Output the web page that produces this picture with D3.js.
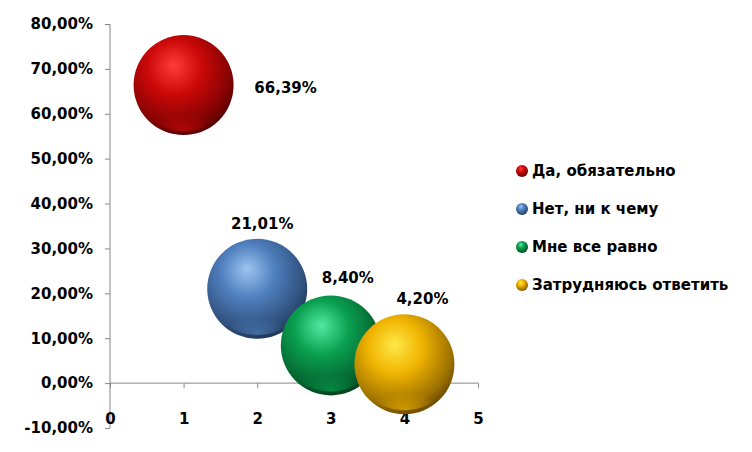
<!DOCTYPE html>
<meta charset="utf-8">
<title>Bubble chart</title>
<style>
    body { margin: 0; background: #fff; }
    svg text { font-family: "DejaVu Sans", Tahoma, sans-serif; font-weight: bold; fill: #000; }
    .axis .domain, .axis .tick line { stroke: #868686; }
    .axis text { font-size: 15px; }
    .lbl { font-size: 15px; }
    .legend text { font-size: 15px; }
</style>
<body>
<svg id="chart" width="752" height="452"></svg>
<script src="https://cdn.jsdelivr.net/npm/d3@7"></script>
<script>
    var categories = ["Да, обязательно", "Нет, ни к чему", "Мне все равно", "Затрудняюсь ответить"];
    var xValues = [1, 2, 3, 4];
    var yValues = [66.39, 21.01, 8.40, 4.20];
    var sizes = [1, 1, 1, 1];
    var yTicks = [-10, 0, 10, 20, 30, 40, 50, 60, 70, 80];
    var xTicks = [0, 1, 2, 3, 4, 5];

    // sphere colours: highlight, base, shadow
    var colors = [
        ["#ff3c3c", "#cc0808", "#500000"],
        ["#9cc4f0", "#4f7fbe", "#1a3050"],
        ["#50eaa0", "#0aa050", "#003a18"],
        ["#ffe848", "#f0b400", "#654400"]
    ];
    // label offsets from bubble centre (layout)
    var labelDx = [102, 5, 17, 18];
    var labelDy = [3, -65, -68, -66];

    var svg = d3.select("#chart");
    var x = d3.scaleLinear().domain([0, 5]).range([110, 478]);
    var y = d3.scaleLinear().domain([-10, 80]).range([428, 24]);
    var r = d3.scaleSqrt().domain([0, 1]).range([0, 50]);

    var defs = svg.append("defs");
    colors.forEach(function(c, i) {
        var g = defs.append("radialGradient").attr("id", "sph" + i)
            .attr("cx", "42%").attr("cy", "36%").attr("r", "68%")
            .attr("fx", "40%").attr("fy", "30%");
        g.append("stop").attr("offset", "0%").attr("stop-color", c[0]);
        g.append("stop").attr("offset", "40%").attr("stop-color", c[1]);
        g.append("stop").attr("offset", "82%").attr("stop-color", d3.interpolateRgb(c[1], c[2])(0.6));
        g.append("stop").attr("offset", "100%").attr("stop-color", c[2]);
        // soft bottom reflection
        var h = defs.append("radialGradient").attr("id", "ref" + i)
            .attr("cx", "50%").attr("cy", "100%").attr("r", "60%");
        h.append("stop").attr("offset", "0%").attr("stop-color", c[1]).attr("stop-opacity", 0.7);
        h.append("stop").attr("offset", "100%").attr("stop-color", c[1]).attr("stop-opacity", 0);
    });

    svg.append("g").attr("class", "axis")
        .attr("transform", "translate(110,0)")
        .call(d3.axisLeft(y).tickValues(yTicks).tickSize(5).tickPadding(12)
            .tickFormat(function(d) { return d.toFixed(2).replace(".", ",") + "%"; }))
        .call(function(g) { g.select(".domain").attr("d", "M0," + y(80) + "V" + y(-10)); });

    svg.append("g").attr("class", "axis")
        .attr("transform", "translate(0," + y(0) + ")")
        .call(d3.axisBottom(x).tickValues(xTicks).tickSize(5).tickPadding(25).tickFormat(d3.format("d")))
        .call(function(g) { g.select(".domain").attr("d", "M" + x(0) + ",0H" + x(5)); });

    var bubbles = svg.append("g").selectAll("g").data(yValues).enter().append("g");
    bubbles.append("circle")
        .attr("cx", function(d, i) { return x(xValues[i]); })
        .attr("cy", function(d) { return y(d); })
        .attr("r", function(d, i) { return r(sizes[i]); })
        .attr("fill", function(d, i) { return "url(#sph" + i + ")"; });
    bubbles.append("ellipse")
        .attr("cx", function(d, i) { return x(xValues[i]); })
        .attr("cy", function(d, i) { return y(d) + r(sizes[i]) * 0.62; })
        .attr("rx", function(d, i) { return r(sizes[i]) * 0.6; })
        .attr("ry", function(d, i) { return r(sizes[i]) * 0.3; })
        .attr("fill", function(d, i) { return "url(#ref" + i + ")"; });

    svg.append("g").selectAll("text").data(yValues).enter().append("text")
        .attr("class", "lbl")
        .attr("x", function(d, i) { return x(xValues[i]) + labelDx[i]; })
        .attr("y", function(d, i) { return y(d) + labelDy[i]; })
        .attr("text-anchor", "middle").attr("dy", "0.35em")
        .text(function(d) { return d.toFixed(2).replace(".", ",") + "%"; });

    var legend = svg.append("g").attr("class", "legend").selectAll("g").data(categories).enter().append("g")
        .attr("transform", function(d, i) { return "translate(522," + (171 + i * 38) + ")"; });
    legend.append("circle").attr("r", 6).attr("fill", function(d, i) { return "url(#sph" + i + ")"; });
    legend.append("text").attr("x", 10).attr("dy", "0.35em").text(function(d) { return d; });
</script>
</body>
